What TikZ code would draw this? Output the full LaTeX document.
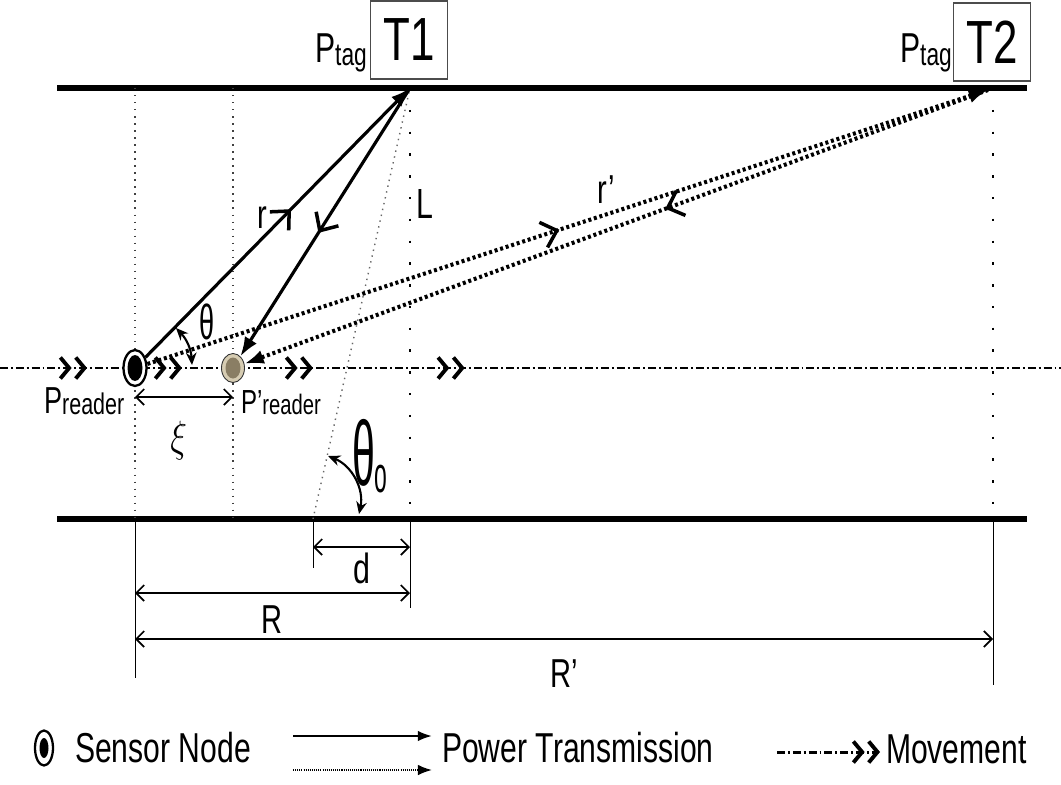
\documentclass[tikz,border=0pt]{standalone}
\usepackage{fontspec}
\setmainfont{Liberation Sans}
\usetikzlibrary{positioning,arrows.meta,decorations.markings,shapes.geometric}
\definecolor{ringcol}{RGB}{214,204,178}
\definecolor{corecol}{RGB}{138,126,100}
\newcommand{\nar}[2][0.72]{\scalebox{#1}[1]{#2}}
\newcommand{\fsz}[1]{\fontsize{#1}{#1}\selectfont}
\tikzset{
  dbl/.tip={Straight Barb[length=5pt,width=12pt,line width=2.2pt,sep=1.2pt] Straight Barb[length=5pt,width=12pt,line width=2.2pt]}
}

\begin{document}
\begin{tikzpicture}[x=0.02cm,y=-0.02cm,
  every node/.style={inner sep=1pt},
  rail/.style={line width=3.2pt},
  power/.style={line width=1.8pt},
  wave/.style={line width=2.3pt, dash pattern=on 1.7pt off 1.6pt},
  guide/.style={black!75, line width=0.8pt, dash pattern=on 0.8pt off 3.2pt},
  sparse/.style={line width=1.4pt, dash pattern=on 1.4pt off 11pt},
  slant/.style={black!60, line width=0.8pt, dash pattern=on 0.8pt off 2.6pt},
  tick/.style={line width=0.5pt},
  dim/.style={line width=1pt, {Straight Barb[length=4.5pt,width=9pt]}-{Straight Barb[length=4.5pt,width=9pt]}},
  angarr/.style={line width=1.2pt, {Stealth[length=7pt,width=6pt]}-{Stealth[length=7pt,width=6pt]}},
  move/.style={line width=1.7pt, dash pattern=on 4.5pt off 1.7pt on 1.1pt off 1.7pt},
  sensor/.style={ellipse, draw, line width=1.3pt, fill=white, minimum width=0.46cm, minimum height=0.72cm, inner sep=0pt},
  moved/.style={ellipse, draw=black!80, line width=0.5pt, fill=ringcol, minimum width=0.46cm, minimum height=0.58cm, inner sep=0pt},
  tagbox/.style={draw=black!70, line width=0.6pt, minimum width=1.54cm, minimum height=1.56cm, inner sep=0pt},
  midarr/.style={postaction={decorate, decoration={markings, mark=at position #1 with {\arrow{Straight Barb[length=8pt,width=15pt,line width=2pt]}}}}},
  chev/.style={postaction={decorate, decoration={markings, mark=at position #1 with {\arrow{dbl}}}}}]
\useasboundingbox (0,0) rectangle (1061,784);

% rails
\coordinate (tl) at (57,88);
\coordinate (tr) at (1027,88);
\coordinate (bl) at (57,519);
\coordinate (br) at (1027,519);
\draw[rail] (tl) -- (tr);
\draw[rail] (bl) -- (br);

\coordinate (a0) at (135,88);
\coordinate (a1) at (135,519);
\coordinate (a2) at (135,678);
\coordinate (b0) at (233,88);
\coordinate (b1) at (233,519);
\coordinate (c1) at (313,519);
\coordinate (c2) at (313,568);
\coordinate (t1) at (410,88);
\coordinate (d1) at (410,519);
\coordinate (d2) at (410,608);
\coordinate (t2) at (988,90);
\coordinate (e0) at (993,88);
\coordinate (e1) at (993,519);
\coordinate (e2) at (993,685);

\draw[guide] (a0) -- (a1);
\draw[guide] (b0) -- (b1);
\draw[sparse] (t1) -- (d1);
\draw[sparse] (e0) -- (e1);
\draw[slant] (c1) -- (t1);
\draw[tick] (a1) -- (a2);
\draw[tick] (c1) -- (c2);
\draw[tick] (d1) -- (d2);
\draw[tick] (e1) -- (e2);

% movement
\coordinate (ml) at (0,368);
\coordinate (mr) at (1061,368);
\draw[move, chev=.082, chev=.1715, chev=.295, chev=.438] (ml) -- (mr);

% tags
\node[tagbox] (T1) at (409,40) {\nar{\fsz{34.7}T1}};
\node[tagbox] (T2) at (992,42) {\nar{\fsz{34.7}T2}};
\node[anchor=base west] (pt1) at (313,63) {\nar{\fsz{23.8}P\raisebox{-1.5pt}{\fsz{18}tag}}};
\node[anchor=base west] (pt2) at (898,63) {\nar{\fsz{23.8}P\raisebox{-1.5pt}{\fsz{18}tag}}};

% sensors
\node[sensor] (p0) at (135,368) {};
\fill (p0.center) ellipse (7.5 and 13);
\node[moved] (p1) at (233,368) {};
\fill[corecol] (p1.center) ellipse (7.5 and 10.5);
\node[anchor=base west] (pr0) at (42,413) {\nar{\fsz{21.4}P\raisebox{-1pt}{\fsz{17}reader}}};
\node[anchor=base west] (pr1) at (239,413) {\nar{\fsz{19}P’\raisebox{-1pt}{\fsz{16}reader}}};

\path[power, -{Latex[length=11pt,width=8pt]}]
  (p0) edge[midarr=.55] node[pos=.52,left=7pt]{\nar{\fsz{23}r}} (t1)
  (t1) edge[midarr=.54] (p1);
\path[wave, -{Latex[length=11pt,width=8pt]}]
  (p0) edge[midarr=.49] node[pos=.546,above=4pt]{\nar{\fsz{23}r’}} (t2)
  (t2) edge[midarr=.434] (p1);

\node (L) at (425,204) {\nar{\fsz{24}L}};

% angles
\coordinate (th1) at (176,328);
\coordinate (th2) at (192,365);
\draw[angarr] (th1) to[bend left=20] (th2);
\node (th) at (207,322) {\nar[0.55]{\fsz{28}θ}};
\coordinate (tq1) at (328,456);
\coordinate (tq2) at (359,514);
\draw[angarr] (tq1) to[bend left=40] (tq2);
\node[anchor=base west] (thq) at (350,485) {\nar[0.45]{\fsz{52}θ\raisebox{-4pt}{\fsz{29}o}}};

% dimensions
\coordinate (x1) at (135,397);
\coordinate (x2) at (233,397);
\draw[dim] (x1) -- (x2) node[midway,below=12pt,xshift=-3pt]{\nar[0.8]{\fsz{28}$\xi$}};
\coordinate (dd1) at (313,547);
\coordinate (dd2) at (410,547);
\draw[dim] (dd1) -- (dd2) node[midway,below=2pt]{\nar{\fsz{24}d}};
\coordinate (rr1) at (135,593);
\coordinate (rr2) at (410,593);
\draw[dim] (rr1) -- (rr2) node[midway,below=6pt]{\nar{\fsz{23}R}};
\coordinate (rs1) at (135,639);
\coordinate (rs2) at (993,639);
\draw[dim] (rs1) -- (rs2) node[midway,below=10pt]{\nar{\fsz{23}R’}};

% legend
\node[sensor, minimum width=0.36cm, minimum height=0.7cm] (k0) at (44,748) {};
\fill (k0.center) ellipse (4.5 and 10);
\node[anchor=base west] (k0t) at (73,762) {\nar{\fsz{23.8}Sensor Node}};
\coordinate (k1a) at (293,736);
\coordinate (k1b) at (432,736);
\draw[line width=1.3pt, -{Latex[length=8pt,width=6pt]}] (k1a) -- (k1b);
\coordinate (k2a) at (293,770);
\coordinate (k2b) at (432,770);
\draw[line width=1pt, dash pattern=on 0.6pt off 0.6pt, -{Latex[length=8pt,width=6pt]}] (k2a) -- (k2b);
\node[anchor=base west] (k1t) at (440,762) {\nar{\fsz{23.8}Power Transmission}};
\coordinate (k3a) at (777,752);
\coordinate (k3b) at (880,752);
\draw[move, -dbl] (k3a) -- (k3b);
\node[anchor=base west] (k3t) at (884,763) {\nar{\fsz{23.8}Movement}};
\end{tikzpicture}
\end{document}
